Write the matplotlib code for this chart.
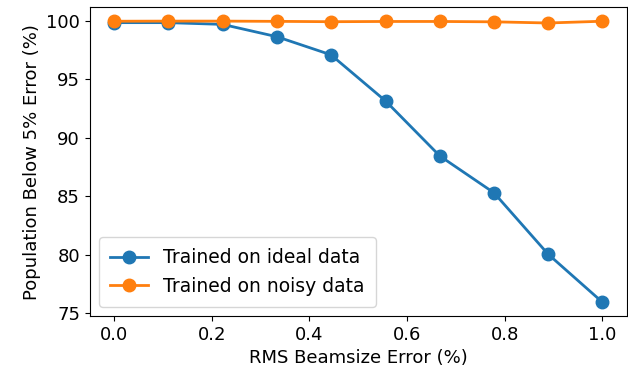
import matplotlib
matplotlib.use("Agg")
import matplotlib.pyplot as plt

# RMS beamsize error levels (%)
beam_error = [0.0, 0.111, 0.222, 0.333, 0.444, 0.556, 0.667, 0.778, 0.889, 1.0]

# Fraction of population predicted within 5% error (%)
ideal_pop = [99.85, 99.85, 99.7, 98.65, 97.1, 93.15, 88.45, 85.3, 80.05, 75.95]
noisy_pop = [99.97, 99.98, 99.98, 99.96, 99.93, 99.95, 99.95, 99.92, 99.82, 99.97]

plt.rcParams["font.size"] = 13

fig, ax = plt.subplots(figsize=(6.28, 3.72), dpi=100)
fig.subplots_adjust(left=0.143, right=0.998, top=0.981, bottom=0.15)

ax.plot(beam_error, ideal_pop, marker="o", markersize=9, linewidth=2, label="Trained on ideal data")
ax.plot(beam_error, noisy_pop, marker="o", markersize=9, linewidth=2, label="Trained on noisy data")

ax.set_xlabel("RMS Beamsize Error (%)")
ax.set_ylabel("Population Below 5% Error (%)")
ax.set_yticks([75, 80, 85, 90, 95, 100])
ax.legend(loc="lower left", fontsize=13.5, borderpad=0.6)

plt.savefig("out.png")
plt.close()
